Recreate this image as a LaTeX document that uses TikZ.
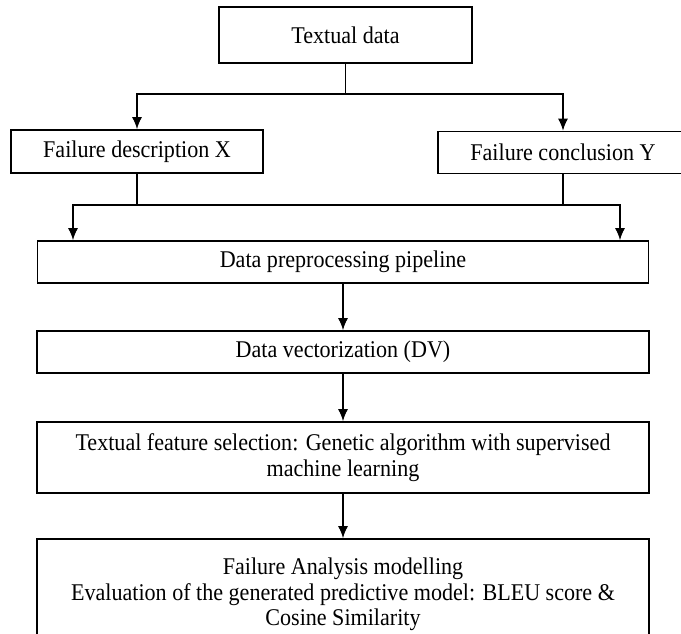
\documentclass[tikz,border=0pt]{standalone}
\usepackage{fontspec}
\setmainfont[FakeStretch=0.92]{Liberation Serif}
\usetikzlibrary{arrows.meta}

\tikzset{
  stage/.style={draw,line width=0.8pt,inner sep=0pt,align=center,
    font=\fontsize{12}{12.75}\selectfont},
  link/.style={line width=0.8pt},
  flow/.style={line width=0.8pt,-{Latex[length=6pt,width=5pt]}},
  flowboth/.style={line width=0.8pt,
    {Latex[length=6pt,width=5pt]}-{Latex[length=6pt,width=5pt]}},
}

\begin{document}
\begin{tikzpicture}[x=0.5pt,y=-0.5pt]
        % Frame
        \useasboundingbox (0,0) rectangle (681,633);
        \clip (0,0) rectangle (681,633);

        % Stages
        \node [stage,minimum width=126.5pt,minimum height=28pt] (td)
            at (345.5,35) {Textual data};
        \node [stage,minimum width=126pt,minimum height=21.5pt] (fdx)
            at (137,151.5) {Failure description X};
        \node [stage,minimum width=125pt,minimum height=21pt] (fcy)
            at (563,152.5) {Failure conclusion Y};
        \node [stage,minimum width=305.5pt,minimum height=21pt] (dpp)
            at (343,262) {Data preprocessing pipeline};
        \node [stage,minimum width=306pt,minimum height=21pt] (dv)
            at (343,352) {Data vectorization (DV)};
        \node [stage,minimum width=306pt,minimum height=35.5pt] (tfs)
            at (343,457.5) {Textual feature selection: Genetic algorithm
            with supervised\\machine learning};
        \node [stage,minimum width=306pt,minimum height=55.5pt] (fa)
            at (343,594.5) {Failure Analysis modelling\\Evaluation of the
            generated predictive model: BLEU score \&\\Cosine Similarity};

        % Split and merge
        \coordinate (split) at (346,94);
        \coordinate (jl) at (73,205);
        \coordinate (jr) at (620,205);
        \draw [link] (td.south) -- (td.south |- split);
        \draw [flowboth] (fdx.north) -- (fdx.north |- split)
            -- (fcy.north |- split) -- (fcy.north);
        \draw [link] (fdx.south) -- (fdx.south |- jl);
        \draw [link] (fcy.south) -- (fcy.south |- jr);
        \draw [flowboth] (jl |- dpp.north) -- (jl) -- (jr)
            -- (jr |- dpp.north);

        % Pipeline
        \draw [flow] (dpp) -- (dv);
        \draw [flow] (dv) -- (tfs);
        \draw [flow] (tfs) -- (fa);
\end{tikzpicture}
\end{document}
